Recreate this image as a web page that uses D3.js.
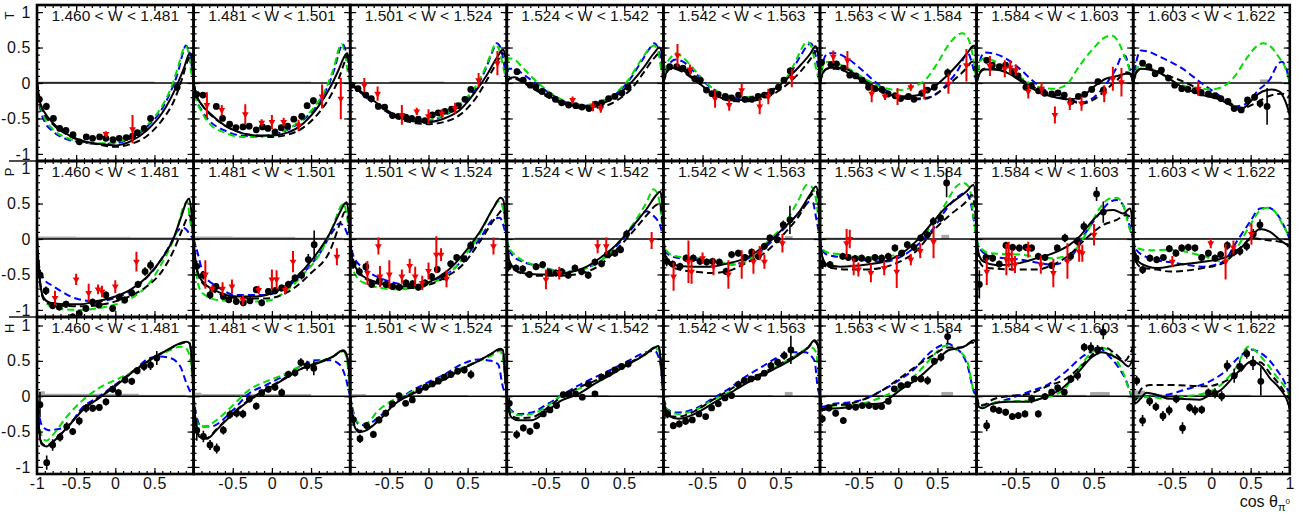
<!DOCTYPE html>
<html>
<head>
<meta charset="utf-8">
<script src="https://cdn.jsdelivr.net/npm/d3@7"></script>
<style>
  html, body { margin: 0; padding: 0; background: #fff; }
  svg { display: block; font-family: "Liberation Sans", Arial, Helvetica, sans-serif; }
</style>
</head>
<body>
<svg id="chart" width="1303" height="515"></svg>
<script>
// ---------------- W bins and axis labels ----------------
const wEdges = [1.460, 1.481, 1.501, 1.524, 1.542, 1.563, 1.584, 1.603, 1.622];
const rowNames = ["T", "P", "H"];
const yTickLabels = [-1, -0.5, 0, 0.5, 1];
const xTickLabelsFirst = [-1, -0.5, 0, 0.5];
const xTickLabelsMid = [-0.5, 0, 0.5];
const xTickLabelsLast = [-0.5, 0, 0.5, 1];

// ---------------- T : measured points [cos, value, error] ----------------
const tPoints = [
  [[-0.97,-0.23,0.05],[-0.88,-0.33,0.05],[-0.79,-0.50,0.03],[-0.71,-0.64,0.03],[-0.63,-0.67,0.03],[-0.54,-0.73,0.03],[-0.46,-0.83,0.03],[-0.37,-0.76,0.03],[-0.29,-0.78,0.03],[-0.20,-0.76,0.03],[-0.12,-0.78,0.03],[-0.03,-0.80,0.03],[0.05,-0.78,0.03],[0.14,-0.77,0.03],[0.22,-0.75,0.03],[0.28,-0.70,0.03],[0.37,-0.64,0.03],[0.45,-0.50,0.04],[0.79,-0.06,0.05]],
  [[-0.96,-0.16,0.04],[-0.88,-0.17,0.04],[-0.71,-0.33,0.04],[-0.63,-0.50,0.03],[-0.54,-0.58,0.03],[-0.46,-0.63,0.03],[-0.37,-0.62,0.03],[-0.29,-0.61,0.03],[-0.20,-0.66,0.03],[-0.12,-0.62,0.03],[-0.05,-0.64,0.03],[0.04,-0.69,0.03],[0.12,-0.63,0.03],[0.20,-0.61,0.03],[0.28,-0.51,0.03],[0.38,-0.47,0.04],[0.45,-0.32,0.04],[0.53,-0.25,0.05]],
  [[-0.98,-0.03,0.04],[-0.90,-0.08,0.03],[-0.80,-0.17,0.03],[-0.73,-0.22,0.03],[-0.64,-0.33,0.03],[-0.56,-0.34,0.03],[-0.46,-0.46,0.03],[-0.385,-0.47,0.03],[-0.29,-0.48,0.03],[-0.215,-0.50,0.03],[-0.13,-0.51,0.03],[-0.045,-0.53,0.03],[0.05,-0.45,0.03],[0.125,-0.42,0.03],[0.21,-0.40,0.03],[0.295,-0.37,0.03],[0.38,-0.32,0.03],[0.465,-0.23,0.03],[0.54,-0.09,0.03]],
  [[-0.87,0.16,0.04],[-0.79,0.04,0.03],[-0.70,-0.03,0.03],[-0.63,-0.06,0.03],[-0.55,-0.12,0.03],[-0.46,-0.17,0.03],[-0.38,-0.23,0.03],[-0.30,-0.28,0.03],[-0.21,-0.31,0.03],[-0.12,-0.32,0.03],[-0.04,-0.34,0.03],[0.05,-0.36,0.03],[0.13,-0.30,0.03],[0.21,-0.28,0.03],[0.30,-0.22,0.03],[0.38,-0.19,0.03],[0.47,-0.14,0.03],[0.55,-0.06,0.04]],
  [[-0.92,0.23,0.04],[-0.83,0.23,0.03],[-0.75,0.21,0.03],[-0.68,0.16,0.03],[-0.60,0.06,0.03],[-0.53,0.04,0.03],[-0.45,-0.10,0.03],[-0.38,-0.15,0.03],[-0.30,-0.16,0.03],[-0.21,-0.19,0.03],[-0.13,-0.21,0.03],[-0.04,-0.17,0.03],[0.04,-0.23,0.03],[0.13,-0.23,0.03],[0.21,-0.19,0.03],[0.29,-0.17,0.03],[0.38,-0.12,0.03],[0.47,-0.06,0.03],[0.54,0.04,0.04],[0.62,0.17,0.05]],
  [[-0.98,0.29,0.04],[-0.86,0.26,0.04],[-0.79,0.27,0.03],[-0.70,0.21,0.03],[-0.62,0.11,0.03],[-0.545,0.10,0.03],[-0.46,0.04,0.03],[-0.38,-0.06,0.03],[-0.30,-0.08,0.03],[-0.21,-0.09,0.03],[-0.13,-0.155,0.03],[-0.04,-0.18,0.03],[0.03,-0.22,0.03],[0.13,-0.19,0.03],[0.20,-0.23,0.03],[0.30,-0.145,0.03],[0.37,-0.10,0.03],[0.46,-0.06,0.03],[0.63,0.145,0.06]],
  [[-0.87,0.32,0.04],[-0.80,0.25,0.03],[-0.71,0.23,0.03],[-0.63,0.25,0.03],[-0.54,0.16,0.03],[-0.47,0.10,0.03],[-0.37,-0.06,0.03],[-0.30,-0.04,0.03],[-0.21,-0.11,0.03],[-0.13,-0.145,0.03],[-0.04,-0.155,0.03],[0.04,-0.14,0.03],[0.12,-0.17,0.03],[0.21,-0.26,0.03],[0.30,-0.19,0.03],[0.38,-0.16,0.03],[0.47,-0.09,0.04],[0.55,0.02,0.04],[0.62,-0.10,0.05]],
  [[-0.88,0.28,0.04],[-0.80,0.23,0.03],[-0.72,0.13,0.03],[-0.64,0.18,0.03],[-0.55,0.07,0.03],[-0.47,-0.03,0.03],[-0.38,-0.08,0.03],[-0.30,-0.09,0.03],[-0.21,-0.11,0.03],[-0.13,-0.14,0.03],[-0.04,-0.155,0.03],[0.045,-0.18,0.03],[0.12,-0.22,0.03],[0.21,-0.26,0.03],[0.29,-0.36,0.03],[0.38,-0.38,0.04],[0.46,-0.24,0.04],[0.55,-0.20,0.05],[0.62,-0.29,0.06],[0.71,-0.33,0.26]]
];
const tRed = [
  [[-0.12,-0.72,0.04],[0.22,-0.65,0.2]],
  [[-0.83,-0.31,0.18],[-0.64,-0.38,0.07],[-0.34,-0.44,0.14],[-0.13,-0.56,0.05],[0.0,-0.55,0.1],[0.15,-0.55,0.06],[0.34,-0.6,0.08],[0.64,-0.19,0.17],[0.88,-0.22,0.29]],
  [[-0.82,-0.03,0.1],[-0.65,-0.15,0.1],[-0.34,-0.45,0.14],[-0.15,-0.4,0.05],[0.0,-0.47,0.1],[0.17,-0.43,0.06],[0.34,-0.36,0.08],[0.64,0.04,0.1],[0.88,0.28,0.17]],
  [[-0.16,-0.24,0.05],[0.1,-0.33,0.07],[0.2,-0.36,0.06]],
  [[-0.82,0.39,0.16],[-0.66,0.19,0.07],[-0.34,-0.22,0.13],[-0.16,-0.31,0.08],[0.0,-0.1,0.09],[0.23,-0.33,0.11],[0.34,-0.19,0.11],[0.64,0.07,0.13]],
  [[-0.83,0.37,0.09],[-0.65,0.32,0.13],[-0.34,-0.15,0.12],[-0.17,-0.19,0.05],[-0.01,-0.19,0.12],[0.16,-0.06,0.05],[0.33,-0.12,0.11],[0.64,-0.01,0.14],[0.87,0.25,0.23]],
  [[-0.83,0.24,0.14],[-0.64,0.2,0.12],[-0.57,0.22,0.1],[-0.5,0.18,0.08],[-0.34,-0.12,0.1],[-0.17,-0.08,0.09],[0.0,-0.45,0.12],[0.19,-0.29,0.09],[0.34,-0.29,0.1],[0.63,-0.15,0.12],[0.74,0.06,0.17],[0.85,0.01,0.2]],
  [[-0.17,-0.08,0.1]]
];
// ---------------- T : model curves [cos, value] ----------------
const tSolid = [
  [[-1,0],[-0.96,-0.28],[-0.9,-0.42],[-0.8,-0.56],[-0.6,-0.73],[-0.4,-0.82],[-0.2,-0.86],[0,-0.88],[0.2,-0.82],[0.4,-0.67],[0.6,-0.42],[0.78,-0.05],[0.88,0.22],[0.95,0.42],[0.975,0.4],[1,0]],
  [[-1,0],[-0.97,-0.15],[-0.9,-0.3],[-0.8,-0.42],[-0.6,-0.6],[-0.4,-0.7],[-0.2,-0.74],[0,-0.74],[0.2,-0.7],[0.4,-0.57],[0.6,-0.32],[0.75,-0.05],[0.85,0.18],[0.93,0.38],[0.96,0.42],[0.98,0.35],[1,0]],
  [[-1,0],[-0.9,-0.1],[-0.8,-0.17],[-0.6,-0.33],[-0.4,-0.47],[-0.2,-0.54],[0,-0.55],[0.2,-0.5],[0.4,-0.38],[0.6,-0.12],[0.75,0.12],[0.88,0.37],[0.95,0.47],[0.98,0.4],[1,0]],
  [[-1,0],[-0.96,0.07],[-0.9,0.08],[-0.8,0.03],[-0.6,-0.1],[-0.4,-0.22],[-0.2,-0.31],[0,-0.34],[0.2,-0.3],[0.4,-0.18],[0.6,0.02],[0.75,0.22],[0.88,0.42],[0.95,0.5],[0.98,0.42],[1,0]],
  [[-1,0],[-0.96,0.15],[-0.9,0.21],[-0.8,0.2],[-0.6,0.05],[-0.4,-0.13],[-0.2,-0.23],[0,-0.24],[0.2,-0.2],[0.4,-0.1],[0.6,0.08],[0.75,0.25],[0.88,0.42],[0.94,0.52],[0.97,0.45],[1,0]],
  [[-1,0],[-0.96,0.15],[-0.9,0.21],[-0.8,0.22],[-0.65,0.19],[-0.5,0.08],[-0.35,-0.02],[-0.2,-0.12],[0,-0.19],[0.2,-0.18],[0.4,-0.1],[0.6,0.08],[0.75,0.25],[0.88,0.42],[0.95,0.52],[0.98,0.53],[1,0]],
  [[-1,0],[-0.96,0.14],[-0.9,0.19],[-0.8,0.19],[-0.6,0.14],[-0.4,0.0],[-0.2,-0.13],[0,-0.2],[0.2,-0.23],[0.35,-0.19],[0.5,-0.05],[0.65,0.06],[0.8,0.1],[0.92,0.13],[0.97,0.12],[1,0]],
  [[-1,0],[-0.96,0.15],[-0.9,0.2],[-0.8,0.19],[-0.64,0.13],[-0.4,-0.04],[-0.15,-0.16],[0.1,-0.23],[0.25,-0.32],[0.35,-0.38],[0.45,-0.32],[0.55,-0.2],[0.65,-0.12],[0.77,-0.09],[0.87,-0.12],[0.94,-0.25],[1,-0.45]]
];
const tDashed = [
  [[-1,0],[-0.95,-0.3],[-0.9,-0.45],[-0.8,-0.58],[-0.6,-0.74],[-0.4,-0.83],[-0.2,-0.87],[0,-0.9],[0.2,-0.86],[0.4,-0.75],[0.6,-0.52],[0.75,-0.25],[0.85,0.05],[0.92,0.3],[0.96,0.38],[0.98,0.3],[1,0]],
  [[-1,0],[-0.97,-0.15],[-0.9,-0.3],[-0.8,-0.43],[-0.6,-0.6],[-0.4,-0.7],[-0.2,-0.74],[0,-0.76],[0.2,-0.73],[0.4,-0.63],[0.6,-0.42],[0.75,-0.18],[0.85,0.05],[0.93,0.3],[0.96,0.38],[0.98,0.3],[1,0]],
  [[-1,0],[-0.9,-0.1],[-0.8,-0.18],[-0.6,-0.35],[-0.4,-0.49],[-0.2,-0.56],[0,-0.58],[0.2,-0.55],[0.4,-0.45],[0.6,-0.22],[0.75,0.05],[0.88,0.3],[0.95,0.42],[0.98,0.38],[1,0]],
  [[-1,0],[-0.96,0.06],[-0.9,0.06],[-0.8,0.01],[-0.6,-0.12],[-0.4,-0.24],[-0.2,-0.32],[0,-0.36],[0.2,-0.34],[0.4,-0.25],[0.6,-0.07],[0.75,0.15],[0.88,0.35],[0.95,0.42],[0.98,0.35],[1,0]],
  [[-1,0],[-0.96,0.15],[-0.9,0.2],[-0.8,0.18],[-0.6,0.04],[-0.4,-0.13],[-0.2,-0.24],[0,-0.26],[0.2,-0.24],[0.4,-0.16],[0.6,0.0],[0.75,0.16],[0.88,0.34],[0.95,0.45],[0.98,0.4],[1,0]],
  [[-1,0],[-0.96,0.15],[-0.9,0.2],[-0.8,0.2],[-0.6,0.12],[-0.4,-0.02],[-0.2,-0.14],[0,-0.2],[0.2,-0.22],[0.4,-0.2],[0.6,-0.06],[0.75,0.08],[0.88,0.22],[0.94,0.3],[0.97,0.28],[1,0]],
  [[-1,0],[-0.96,0.15],[-0.9,0.2],[-0.8,0.2],[-0.6,0.15],[-0.4,0.03],[-0.2,-0.1],[0,-0.18],[0.2,-0.25],[0.35,-0.29],[0.5,-0.23],[0.65,-0.1],[0.8,0.05],[0.92,0.15],[0.97,0.13],[1,0]],
  [[-1,0],[-0.96,0.15],[-0.9,0.2],[-0.8,0.2],[-0.6,0.12],[-0.38,0.03],[-0.13,-0.1],[0.2,-0.26],[0.38,-0.36],[0.55,-0.29],[0.72,-0.19],[0.9,-0.15],[1,-0.2]]
];
const tBlue = [
  [[-1,0],[-0.96,-0.35],[-0.9,-0.55],[-0.8,-0.68],[-0.6,-0.8],[-0.4,-0.84],[-0.2,-0.86],[0,-0.85],[0.2,-0.78],[0.4,-0.62],[0.6,-0.36],[0.7,-0.14],[0.8,0.15],[0.87,0.45],[0.9,0.53],[0.93,0.48],[0.97,0.3],[1,0]],
  [[-1,0],[-0.97,-0.2],[-0.9,-0.38],[-0.8,-0.53],[-0.6,-0.67],[-0.4,-0.74],[-0.2,-0.75],[0,-0.73],[0.2,-0.66],[0.4,-0.52],[0.6,-0.28],[0.7,-0.08],[0.8,0.2],[0.87,0.48],[0.9,0.55],[0.93,0.5],[0.97,0.3],[1,0]],
  [[-1,0],[-0.9,-0.1],[-0.8,-0.2],[-0.6,-0.36],[-0.4,-0.48],[-0.2,-0.54],[0,-0.53],[0.2,-0.46],[0.4,-0.32],[0.6,-0.08],[0.72,0.17],[0.82,0.45],[0.87,0.56],[0.92,0.5],[0.96,0.3],[1,0]],
  [[-1,0],[-0.98,0.2],[-0.9,0.2],[-0.8,0.13],[-0.6,-0.03],[-0.4,-0.18],[-0.2,-0.29],[0,-0.32],[0.2,-0.27],[0.4,-0.15],[0.55,0.02],[0.7,0.27],[0.82,0.48],[0.88,0.56],[0.93,0.5],[0.97,0.3],[1,0]],
  [[-1,0],[-0.96,0.2],[-0.9,0.3],[-0.84,0.33],[-0.75,0.3],[-0.6,0.15],[-0.4,-0.06],[-0.2,-0.18],[0,-0.22],[0.2,-0.2],[0.4,-0.1],[0.6,0.1],[0.75,0.38],[0.84,0.53],[0.88,0.56],[0.93,0.45],[0.97,0.25],[1,0]],
  [[-1,0],[-0.96,0.3],[-0.9,0.42],[-0.8,0.42],[-0.7,0.38],[-0.5,0.22],[-0.3,0.02],[-0.1,-0.14],[0.1,-0.22],[0.3,-0.23],[0.5,-0.14],[0.65,0.02],[0.78,0.22],[0.85,0.38],[0.89,0.42],[0.93,0.32],[0.97,0.15],[1,0]],
  [[-1,0],[-0.96,0.3],[-0.9,0.43],[-0.8,0.42],[-0.65,0.36],[-0.45,0.2],[-0.25,0.0],[-0.05,-0.15],[0.15,-0.23],[0.35,-0.27],[0.5,-0.2],[0.65,-0.02],[0.78,0.2],[0.86,0.38],[0.9,0.38],[0.94,0.25],[1,0]],
  [[-1,0],[-0.96,0.3],[-0.9,0.46],[-0.8,0.44],[-0.64,0.36],[-0.38,0.21],[-0.13,0.0],[0.13,-0.2],[0.3,-0.33],[0.43,-0.3],[0.6,-0.1],[0.75,0.06],[0.85,0.27],[0.9,0.3],[0.95,0.22],[1,0]]
];
const tGreen = [
  [[-1,0],[-0.96,-0.3],[-0.9,-0.5],[-0.8,-0.65],[-0.6,-0.78],[-0.4,-0.84],[-0.2,-0.85],[0,-0.84],[0.2,-0.76],[0.4,-0.6],[0.6,-0.32],[0.7,-0.1],[0.8,0.22],[0.86,0.45],[0.9,0.52],[0.94,0.4],[0.97,0.15],[1,0]],
  [[-1,0],[-0.97,-0.2],[-0.9,-0.4],[-0.8,-0.57],[-0.6,-0.7],[-0.4,-0.76],[-0.2,-0.76],[0,-0.73],[0.2,-0.65],[0.4,-0.5],[0.6,-0.25],[0.7,-0.05],[0.8,0.25],[0.86,0.5],[0.89,0.55],[0.93,0.42],[0.97,0.15],[1,0]],
  [[-1,0],[-0.9,-0.08],[-0.8,-0.18],[-0.6,-0.35],[-0.4,-0.47],[-0.2,-0.53],[0,-0.52],[0.2,-0.45],[0.4,-0.3],[0.6,-0.05],[0.72,0.2],[0.8,0.42],[0.85,0.54],[0.9,0.48],[0.95,0.25],[1,0]],
  [[-1,0],[-0.98,0.35],[-0.9,0.33],[-0.8,0.22],[-0.6,0.0],[-0.4,-0.17],[-0.2,-0.28],[0,-0.31],[0.2,-0.26],[0.4,-0.13],[0.55,0.04],[0.7,0.3],[0.82,0.48],[0.88,0.53],[0.93,0.45],[0.97,0.2],[1,0]],
  [[-1,0],[-0.96,0.25],[-0.9,0.37],[-0.84,0.42],[-0.75,0.36],[-0.6,0.18],[-0.4,-0.05],[-0.2,-0.17],[0,-0.2],[0.2,-0.18],[0.4,-0.08],[0.6,0.12],[0.72,0.38],[0.8,0.55],[0.84,0.58],[0.9,0.48],[0.95,0.2],[1,0]],
  [[-1,0],[-0.96,0.25],[-0.9,0.3],[-0.8,0.28],[-0.6,0.18],[-0.4,0.04],[-0.2,-0.06],[0,-0.1],[0.2,-0.05],[0.35,0.05],[0.5,0.28],[0.65,0.55],[0.75,0.67],[0.82,0.7],[0.88,0.65],[0.93,0.5],[0.97,0.25],[1,0]],
  [[-1,0],[-0.96,0.3],[-0.9,0.35],[-0.8,0.32],[-0.6,0.2],[-0.4,0.05],[-0.2,-0.06],[0,-0.08],[0.15,-0.02],[0.3,0.22],[0.5,0.5],[0.65,0.65],[0.72,0.67],[0.8,0.6],[0.88,0.4],[0.95,0.2],[1,0]],
  [[-1,0],[-0.96,0.2],[-0.9,0.25],[-0.8,0.22],[-0.6,0.1],[-0.45,0.0],[-0.2,-0.07],[0,-0.09],[0.15,-0.05],[0.3,0.1],[0.45,0.35],[0.58,0.52],[0.66,0.56],[0.75,0.52],[0.85,0.38],[0.94,0.22],[1,0]]
];
// systematic uncertainty bands [from, to, height]
const tSys = [
  [[-1,0.5,0.02]], [[-1,0.5,0.02]], [[-0.5,0.2,0.02]], [], [], [], [[0.4,0.6,0.02]], [[0.62,0.72,0.05],[0.72,0.9,0.02]]
];

// ---------------- P ----------------
const pPoints = [
  [[-0.96,-0.51,0.08],[-0.885,-0.73,0.06],[-0.80,-0.94,0.05],[-0.715,-0.96,0.05],[-0.63,-0.92,0.05],[-0.545,-1.10,0.05],[-0.46,-1.05,0.05],[-0.375,-0.98,0.05],[-0.29,-0.89,0.05],[-0.21,-0.93,0.05],[-0.12,-0.79,0.05],[-0.034,-0.98,0.05],[0.05,-0.82,0.05],[0.12,-0.86,0.05],[0.21,-0.76,0.05],[0.29,-0.64,0.05],[0.38,-0.46,0.06],[0.45,-0.37,0.07]],
  [[-0.96,-0.385,0.08],[-0.876,-0.51,0.06],[-0.79,-0.79,0.06],[-0.714,-0.67,0.05],[-0.62,-0.81,0.05],[-0.55,-0.856,0.05],[-0.455,-0.88,0.05],[-0.365,-0.9,0.05],[-0.28,-0.87,0.05],[-0.2,-0.715,0.05],[-0.13,-0.9,0.05],[-0.045,-0.74,0.05],[0.04,-0.73,0.05],[0.125,-0.69,0.05],[0.21,-0.64,0.05],[0.295,-0.55,0.05],[0.38,-0.51,0.06],[0.465,-0.29,0.08],[0.54,-0.08,0.2]],
  [[-0.96,-0.35,0.07],[-0.883,-0.46,0.06],[-0.8,-0.39,0.06],[-0.726,-0.64,0.05],[-0.628,-0.59,0.05],[-0.543,-0.64,0.05],[-0.458,-0.67,0.05],[-0.373,-0.68,0.05],[-0.288,-0.62,0.05],[-0.203,-0.63,0.05],[-0.13,-0.68,0.05],[-0.045,-0.62,0.05],[0.04,-0.53,0.05],[0.112,-0.43,0.05],[0.197,-0.53,0.05],[0.283,-0.35,0.05],[0.36,-0.26,0.05],[0.453,-0.28,0.05],[0.538,-0.09,0.06]],
  [[-0.98,-0.39,0.07],[-0.883,-0.41,0.05],[-0.797,-0.42,0.05],[-0.712,-0.5,0.05],[-0.627,-0.39,0.05],[-0.542,-0.36,0.05],[-0.457,-0.47,0.05],[-0.372,-0.48,0.05],[-0.3,-0.46,0.05],[-0.215,-0.51,0.05],[-0.13,-0.41,0.05],[-0.045,-0.46,0.05],[0.04,-0.51,0.05],[0.126,-0.325,0.05],[0.21,-0.35,0.05],[0.283,-0.22,0.05],[0.38,-0.2,0.05],[0.453,-0.15,0.05],[0.53,0.07,0.06]],
  [[-0.958,-0.315,0.07],[-0.882,-0.353,0.05],[-0.788,-0.386,0.05],[-0.711,-0.27,0.05],[-0.618,-0.27,0.05],[-0.533,-0.315,0.05],[-0.448,-0.325,0.05],[-0.371,-0.315,0.05],[-0.286,-0.325,0.05],[-0.2,-0.457,0.05],[-0.129,-0.22,0.05],[-0.043,-0.2,0.05],[0.042,-0.26,0.05],[0.127,-0.185,0.05],[0.212,-0.245,0.05],[0.289,-0.104,0.05],[0.36,0.014,0.05],[0.454,-0.01,0.05],[0.531,0.2,0.06],[0.616,0.27,0.2]],
  [[-0.966,-0.353,0.07],[-0.872,-0.36,0.05],[-0.71,-0.245,0.05],[-0.638,-0.26,0.05],[-0.553,-0.277,0.05],[-0.468,-0.27,0.05],[-0.383,-0.29,0.05],[-0.298,-0.26,0.05],[-0.213,-0.27,0.05],[-0.128,-0.245,0.05],[-0.043,-0.127,0.05],[0.043,-0.2,0.05],[0.115,-0.08,0.05],[0.2,-0.118,0.05],[0.285,0.014,0.05],[0.37,0.06,0.05],[0.447,0.249,0.06],[0.54,0.296,0.06],[0.617,0.79,0.2]],
  [[-0.965,-0.64,0.2],[-0.88,-0.26,0.06],[-0.795,-0.27,0.05],[-0.71,-0.353,0.05],[-0.625,-0.09,0.05],[-0.54,-0.118,0.05],[-0.455,-0.127,0.05],[-0.37,-0.118,0.05],[-0.297,-0.127,0.05],[-0.212,-0.245,0.05],[-0.127,-0.26,0.05],[-0.042,-0.372,0.05],[0.03,-0.127,0.05],[0.128,0.014,0.06],[0.2,-0.245,0.06],[0.285,-0.033,0.06],[0.37,0.178,0.07],[0.532,0.635,0.1],[0.618,0.38,0.15]],
  [[-0.964,-0.27,0.07],[-0.879,-0.433,0.06],[-0.786,-0.27,0.05],[-0.7,-0.292,0.05],[-0.615,-0.26,0.05],[-0.539,-0.136,0.05],[-0.454,-0.2,0.05],[-0.381,-0.127,0.05],[-0.296,-0.118,0.05],[-0.211,-0.127,0.05],[-0.126,-0.26,0.05],[-0.04,-0.2,0.05],[0.045,-0.27,0.05],[0.117,-0.22,0.05],[0.202,-0.09,0.06],[0.287,-0.183,0.06],[0.363,-0.174,0.06],[0.449,-0.104,0.06],[0.534,0.07,0.07],[0.619,0.2,0.08]]
];
const pRed = [
  [[-0.77,-0.83,0.1],[-0.5,-0.57,0.08],[-0.34,-0.76,0.13],[-0.22,-0.71,0.07],[-0.17,-0.74,0.08],[0.0,-0.67,0.09],[0.27,-0.32,0.14]],
  [[-0.85,-0.5,0.2],[-0.76,-0.7,0.05],[-0.63,-0.7,0.09],[-0.51,-0.67,0.1],[-0.37,-0.86,0.07],[-0.17,-0.72,0.06],[0.0,-0.57,0.14],[0.06,-0.57,0.13],[0.17,-0.72,0.06],[0.27,-0.32,0.15],[0.83,-0.25,0.12]],
  [[-0.78,-0.48,0.17],[-0.64,-0.1,0.12],[-0.62,-0.53,0.15],[-0.5,-0.5,0.2],[-0.34,-0.53,0.1],[-0.24,-0.38,0.1],[-0.17,-0.53,0.14],[-0.08,-0.62,0.1],[0.0,-0.45,0.12],[0.1,-0.22,0.26],[0.16,-0.22,0.09],[0.23,-0.56,0.12],[0.83,-0.1,0.12]],
  [[-0.5,-0.57,0.14],[-0.33,-0.48,0.09],[0.16,-0.1,0.1],[0.27,-0.1,0.12],[0.85,-0.02,0.12]],
  [[-0.87,-0.53,0.2],[-0.68,-0.32,0.3],[-0.64,-0.46,0.17],[-0.5,-0.27,0.08],[-0.36,-0.39,0.12],[-0.17,-0.5,0.2],[0.0,-0.36,0.2],[0.15,-0.32,0.17],[0.23,-0.2,0.1],[0.29,-0.32,0.1],[0.52,-0.06,0.13]],
  [[-0.66,-0.06,0.2],[-0.62,0.0,0.13],[-0.57,-0.39,0.12],[-0.51,-0.43,0.1],[-0.35,-0.48,0.13],[-0.18,-0.41,0.1],[-0.02,-0.46,0.23],[0.16,-0.29,0.08],[0.28,-0.17,0.1],[0.45,-0.04,0.23]],
  [[-0.87,-0.46,0.19],[-0.62,-0.29,0.22],[-0.59,-0.22,0.18],[-0.55,-0.3,0.15],[-0.51,-0.36,0.12],[-0.34,-0.15,0.11],[-0.18,-0.36,0.13],[-0.02,-0.48,0.2],[0.16,-0.31,0.25],[0.31,-0.18,0.14],[0.35,-0.2,0.12],[0.5,0.06,0.15]],
  [[-0.5,-0.32,0.08],[-0.01,-0.06,0.07],[0.18,-0.32,0.25],[0.28,-0.12,0.1],[0.51,0.07,0.15]]
];
const pSolid = [
  [[-1,0],[-0.97,-0.5],[-0.92,-0.82],[-0.83,-0.9],[-0.65,-0.92],[-0.45,-0.92],[-0.25,-0.88],[0,-0.81],[0.2,-0.71],[0.4,-0.54],[0.6,-0.27],[0.74,0.0],[0.85,0.34],[0.91,0.53],[0.945,0.57],[0.97,0.4],[1,0]],
  [[-1,0],[-0.97,-0.35],[-0.9,-0.58],[-0.7,-0.74],[-0.45,-0.81],[-0.2,-0.81],[0.06,-0.74],[0.3,-0.55],[0.53,-0.27],[0.74,0.08],[0.87,0.38],[0.93,0.5],[0.955,0.52],[0.98,0.35],[1,0]],
  [[-1,0],[-0.97,-0.3],[-0.92,-0.42],[-0.83,-0.53],[-0.62,-0.62],[-0.4,-0.67],[-0.2,-0.67],[0.02,-0.6],[0.23,-0.46],[0.44,-0.22],[0.66,0.11],[0.83,0.44],[0.92,0.58],[0.95,0.56],[0.98,0.35],[1,0]],
  [[-1,0],[-0.97,-0.3],[-0.9,-0.42],[-0.8,-0.48],[-0.6,-0.5],[-0.4,-0.5],[-0.2,-0.47],[0.0,-0.4],[0.2,-0.26],[0.4,-0.08],[0.6,0.17],[0.79,0.43],[0.91,0.62],[0.96,0.67],[0.985,0.5],[1,0]],
  [[-1,0],[-0.97,-0.25],[-0.9,-0.34],[-0.8,-0.38],[-0.6,-0.39],[-0.4,-0.39],[-0.2,-0.35],[0.05,-0.27],[0.3,-0.09],[0.53,0.15],[0.74,0.39],[0.87,0.62],[0.95,0.74],[0.98,0.6],[1,0]],
  [[-1,0],[-0.97,-0.25],[-0.91,-0.36],[-0.74,-0.39],[-0.4,-0.36],[-0.19,-0.32],[0.02,-0.22],[0.23,-0.03],[0.45,0.25],[0.62,0.46],[0.79,0.6],[0.87,0.67],[0.96,0.76],[0.99,0.5],[1,0]],
  [[-1,0],[-0.97,-0.22],[-0.91,-0.32],[-0.74,-0.37],[-0.45,-0.34],[-0.23,-0.27],[-0.02,-0.2],[0.19,-0.08],[0.32,0.04],[0.45,0.22],[0.62,0.39],[0.75,0.41],[0.87,0.36],[0.96,0.43],[1,0.1]],
  [[-1,0],[-0.97,-0.25],[-0.91,-0.34],[-0.7,-0.41],[-0.45,-0.37],[-0.11,-0.32],[0.15,-0.27],[0.32,-0.18],[0.49,0.01],[0.62,0.14],[0.75,0.1],[0.87,-0.01],[0.98,-0.09],[1,-0.1]]
];
const pDashed = [
  [[-1,0],[-0.97,-0.5],[-0.92,-0.84],[-0.83,-0.92],[-0.65,-0.94],[-0.4,-0.95],[-0.2,-0.93],[0,-0.88],[0.2,-0.8],[0.4,-0.67],[0.6,-0.45],[0.75,-0.15],[0.85,0.12],[0.92,0.3],[0.95,0.33],[0.98,0.2],[1,0]],
  [[-1,0],[-0.97,-0.35],[-0.9,-0.6],[-0.7,-0.76],[-0.45,-0.83],[-0.1,-0.84],[0.2,-0.75],[0.5,-0.48],[0.74,-0.17],[0.88,0.25],[0.93,0.38],[0.96,0.36],[1,0]],
  [[-1,0],[-0.97,-0.3],[-0.92,-0.43],[-0.83,-0.54],[-0.62,-0.64],[-0.4,-0.69],[-0.2,-0.69],[0.02,-0.64],[0.23,-0.53],[0.44,-0.36],[0.66,-0.03],[0.87,0.32],[0.95,0.41],[0.98,0.3],[1,0]],
  [[-1,0],[-0.97,-0.3],[-0.9,-0.43],[-0.8,-0.49],[-0.6,-0.52],[-0.4,-0.52],[-0.2,-0.51],[0.0,-0.47],[0.2,-0.36],[0.4,-0.15],[0.6,0.09],[0.79,0.34],[0.91,0.48],[0.95,0.5],[0.98,0.35],[1,0]],
  [[-1,0],[-0.97,-0.28],[-0.9,-0.38],[-0.8,-0.43],[-0.6,-0.46],[-0.4,-0.48],[-0.2,-0.46],[0.05,-0.34],[0.3,-0.19],[0.53,0.06],[0.74,0.34],[0.89,0.62],[0.95,0.67],[0.98,0.5],[1,0]],
  [[-1,0],[-0.97,-0.3],[-0.9,-0.4],[-0.62,-0.43],[-0.4,-0.43],[-0.15,-0.39],[0.02,-0.32],[0.23,-0.17],[0.45,0.12],[0.66,0.34],[0.87,0.53],[0.94,0.62],[0.98,0.4],[1,0]],
  [[-1,0],[-0.97,-0.3],[-0.9,-0.4],[-0.74,-0.42],[-0.45,-0.43],[-0.23,-0.43],[-0.02,-0.36],[0.19,-0.22],[0.4,0.01],[0.62,0.2],[0.79,0.27],[0.91,0.34],[0.97,0.3],[1,0]],
  [[-1,0],[-0.97,-0.3],[-0.9,-0.4],[-0.7,-0.43],[-0.53,-0.46],[-0.11,-0.41],[0.15,-0.34],[0.36,-0.13],[0.53,0.01],[0.66,-0.01],[0.83,-0.03],[0.98,-0.08],[1,-0.1]]
];
const pBlue = [
  [[-1,0],[-0.97,-0.4],[-0.9,-0.58],[-0.8,-0.66],[-0.7,-0.73],[-0.5,-0.84],[-0.25,-0.88],[0.05,-0.81],[0.3,-0.65],[0.5,-0.42],[0.7,-0.08],[0.8,0.12],[0.87,0.16],[0.91,0.13],[0.96,0.05],[1,0]],
  [[-1,0],[-0.96,-0.15],[-0.87,-0.5],[-0.7,-0.67],[-0.45,-0.79],[-0.1,-0.79],[0.2,-0.67],[0.4,-0.48],[0.6,-0.22],[0.78,0.11],[0.86,0.22],[0.92,0.18],[0.96,0.08],[1,0]],
  [[-1,0],[-0.97,-0.2],[-0.94,-0.28],[-0.83,-0.41],[-0.62,-0.55],[-0.2,-0.65],[0.23,-0.5],[0.44,-0.29],[0.66,0.01],[0.83,0.28],[0.91,0.3],[0.96,0.18],[1,0]],
  [[-1,0],[-0.97,-0.15],[-0.9,-0.26],[-0.8,-0.32],[-0.6,-0.38],[-0.4,-0.44],[-0.2,-0.46],[0.0,-0.41],[0.2,-0.31],[0.4,-0.1],[0.6,0.15],[0.79,0.39],[0.86,0.34],[0.92,0.27],[0.97,0.15],[1,0]],
  [[-1,0],[-0.97,-0.18],[-0.9,-0.24],[-0.8,-0.27],[-0.55,-0.3],[-0.3,-0.34],[-0.1,-0.36],[0.1,-0.27],[0.32,-0.1],[0.57,0.18],[0.79,0.44],[0.87,0.53],[0.91,0.51],[0.95,0.3],[1,0]],
  [[-1,0],[-0.97,-0.15],[-0.91,-0.22],[-0.62,-0.27],[-0.19,-0.32],[0.05,-0.24],[0.23,-0.1],[0.45,0.15],[0.62,0.43],[0.79,0.62],[0.86,0.65],[0.91,0.57],[0.96,0.3],[1,0]],
  [[-1,0],[-0.97,-0.12],[-0.83,-0.24],[-0.45,-0.29],[-0.02,-0.36],[0.19,-0.27],[0.4,0.1],[0.57,0.36],[0.7,0.52],[0.79,0.55],[0.87,0.48],[0.95,0.2],[1,0]],
  [[-1,0],[-0.97,-0.14],[-0.79,-0.27],[-0.45,-0.34],[-0.11,-0.39],[0.15,-0.32],[0.32,-0.04],[0.49,0.24],[0.62,0.43],[0.72,0.44],[0.8,0.4],[0.87,0.3],[0.96,0.1],[1,0]]
];
const pGreen = [
  [[-1,0],[-0.97,-0.55],[-0.9,-0.88],[-0.75,-0.98],[-0.45,-1.0],[-0.1,-0.95],[0.2,-0.84],[0.45,-0.6],[0.6,-0.33],[0.78,0.1],[0.88,0.48],[0.92,0.53],[0.95,0.3],[1,0]],
  [[-1,0],[-0.97,-0.45],[-0.9,-0.75],[-0.7,-0.86],[-0.45,-0.88],[-0.1,-0.88],[0.15,-0.76],[0.4,-0.5],[0.6,-0.23],[0.78,0.18],[0.88,0.46],[0.92,0.5],[0.96,0.3],[1,0]],
  [[-1,0],[-0.97,-0.4],[-0.9,-0.56],[-0.8,-0.63],[-0.62,-0.69],[-0.4,-0.71],[-0.2,-0.69],[0.02,-0.62],[0.23,-0.52],[0.44,-0.27],[0.66,0.08],[0.83,0.44],[0.89,0.53],[0.95,0.44],[1,0]],
  [[-1,0],[-0.97,-0.12],[-0.9,-0.22],[-0.8,-0.3],[-0.6,-0.38],[-0.4,-0.44],[-0.2,-0.46],[0.0,-0.42],[0.2,-0.31],[0.4,-0.08],[0.6,0.19],[0.79,0.53],[0.87,0.7],[0.91,0.67],[0.96,0.45],[1,0]],
  [[-1,0],[-0.97,-0.15],[-0.9,-0.22],[-0.8,-0.25],[-0.55,-0.27],[-0.3,-0.32],[-0.1,-0.36],[0.1,-0.29],[0.32,-0.05],[0.57,0.25],[0.74,0.58],[0.83,0.76],[0.89,0.74],[0.95,0.55],[1,0]],
  [[-1,0],[-0.97,-0.14],[-0.9,-0.19],[-0.7,-0.22],[-0.4,-0.26],[-0.1,-0.24],[0.1,-0.14],[0.23,-0.03],[0.45,0.22],[0.62,0.53],[0.74,0.74],[0.83,0.79],[0.91,0.72],[0.96,0.3],[1,0]],
  [[-1,0],[-0.97,-0.1],[-0.83,-0.2],[-0.45,-0.22],[-0.02,-0.27],[0.19,-0.22],[0.4,0.08],[0.57,0.43],[0.7,0.57],[0.79,0.58],[0.87,0.48],[0.96,0.12],[1,0]],
  [[-1,0],[-0.97,-0.12],[-0.79,-0.16],[-0.53,-0.15],[-0.11,-0.24],[0.15,-0.32],[0.32,-0.13],[0.49,0.19],[0.62,0.4],[0.72,0.44],[0.8,0.4],[0.87,0.28],[0.96,0.1],[1,0]]
];
const pSys = [
  [[-1,-0.5,0.035],[-0.5,0.2,0.03],[0.2,0.8,0.025]],
  [[-1,-0.5,0.035],[-0.5,0.3,0.03],[0.3,0.9,0.02]],
  [[-1,0.9,0.02]],
  [[-0.9,0.3,0.02]],
  [[-1,0.5,0.015],[0.55,0.65,0.04]],
  [[-1,0.4,0.02],[0.55,0.65,0.06]],
  [[-1,0.5,0.025]],
  [[-1,0.6,0.015]]
];

// ---------------- H ----------------
const hPoints = [
  [[-0.962,-0.12,0.18],[-0.876,-0.94,0.1],[-0.8,-0.69,0.08],[-0.706,-0.58,0.06],[-0.62,-0.43,0.06],[-0.544,-0.5,0.05],[-0.46,-0.35,0.06],[-0.374,-0.17,0.06],[-0.289,-0.17,0.05],[-0.204,-0.16,0.05],[-0.119,-0.08,0.05],[-0.033,0.1,0.05],[0.04,0.05,0.05],[0.124,0.23,0.05],[0.21,0.21,0.05],[0.28,0.36,0.05],[0.367,0.42,0.06],[0.45,0.44,0.07],[0.53,0.54,0.1]],
  [[-0.96,-0.48,0.15],[-0.875,-0.57,0.08],[-0.79,-0.69,0.07],[-0.705,-0.74,0.07],[-0.62,-0.48,0.06],[-0.535,-0.26,0.06],[-0.45,-0.24,0.06],[-0.37,-0.25,0.06],[-0.288,-0.04,0.05],[-0.2,-0.14,0.05],[-0.13,0.05,0.05],[-0.046,0.1,0.05],[0.04,0.126,0.05],[0.125,0.05,0.06],[0.21,0.31,0.05],[0.295,0.33,0.05],[0.37,0.476,0.06],[0.45,0.43,0.07],[0.535,0.396,0.1]],
  [[-0.96,-0.33,0.07],[-0.875,-0.6,0.06],[-0.79,-0.415,0.05],[-0.704,-0.54,0.05],[-0.632,-0.335,0.05],[-0.547,-0.24,0.05],[-0.462,-0.11,0.04],[-0.377,0.009,0.04],[-0.292,-0.1,0.04],[-0.207,-0.052,0.04],[-0.122,0.08,0.04],[-0.037,0.127,0.04],[0.048,0.174,0.04],[0.125,0.212,0.04],[0.202,0.269,0.04],[0.287,0.306,0.04],[0.372,0.353,0.04],[0.457,0.372,0.05],[0.542,0.306,0.06]],
  [[-0.968,-0.1,0.08],[-0.874,-0.543,0.06],[-0.789,-0.449,0.05],[-0.704,-0.496,0.05],[-0.619,-0.416,0.05],[-0.534,-0.25,0.04],[-0.449,-0.194,0.04],[-0.364,-0.133,0.04],[-0.279,0.023,0.04],[-0.206,0.033,0.04],[-0.121,0.033,0.04],[-0.036,-0.014,0.04],[0.041,0.174,0.04],[0.126,0.033,0.04],[0.211,0.27,0.04],[0.296,0.316,0.04],[0.381,0.373,0.04],[0.466,0.42,0.05],[0.551,0.457,0.05]],
  [[-0.946,-0.25,0.06],[-0.874,-0.416,0.05],[-0.797,-0.392,0.05],[-0.716,-0.354,0.05],[-0.631,-0.335,0.04],[-0.546,-0.25,0.04],[-0.46,-0.288,0.04],[-0.384,-0.165,0.04],[-0.299,-0.108,0.04],[-0.214,-0.024,0.04],[-0.129,0.009,0.04],[-0.043,0.165,0.04],[0.033,0.221,0.04],[0.118,0.245,0.04],[0.203,0.269,0.04],[0.288,0.325,0.04],[0.373,0.433,0.05],[0.458,0.48,0.05],[0.543,0.575,0.06],[0.628,0.655,0.2]],
  [[-0.97,-0.32,0.06],[-0.885,-0.165,0.05],[-0.8,-0.24,0.05],[-0.702,-0.344,0.05],[-0.63,-0.146,0.04],[-0.545,-0.156,0.04],[-0.46,-0.132,0.04],[-0.374,-0.132,0.04],[-0.289,-0.146,0.04],[-0.213,-0.146,0.04],[-0.128,-0.071,0.04],[-0.051,0.104,0.04],[0.034,0.151,0.04],[0.119,0.165,0.04],[0.204,0.245,0.04],[0.289,0.245,0.05],[0.374,0.221,0.06],[0.46,0.495,0.05],[0.545,0.552,0.06],[0.63,0.843,0.1]],
  [[-0.871,-0.416,0.08],[-0.786,-0.18,0.05],[-0.714,-0.203,0.05],[-0.629,-0.227,0.05],[-0.544,-0.288,0.05],[-0.467,-0.274,0.05],[-0.382,-0.25,0.05],[-0.297,-0.038,0.06],[-0.212,-0.25,0.05],[-0.127,-0.005,0.05],[-0.042,0.057,0.05],[0.035,0.118,0.05],[0.12,0.057,0.05],[0.205,0.245,0.06],[0.29,0.292,0.07],[0.375,0.693,0.06],[0.46,0.684,0.08],[0.545,0.655,0.07],[0.618,0.905,0.1]],
  [[-0.955,0.22,0.07],[-0.88,-0.345,0.08],[-0.79,-0.07,0.07],[-0.71,-0.15,0.06],[-0.62,-0.28,0.07],[-0.54,-0.2,0.07],[-0.45,-0.04,0.06],[-0.37,-0.45,0.08],[-0.28,-0.16,0.06],[-0.21,-0.2,0.07],[-0.125,-0.19,0.06],[-0.04,0.05,0.06],[0.045,0.04,0.07],[0.13,0.0,0.07],[0.2,0.43,0.08],[0.29,0.29,0.1],[0.36,0.42,0.08],[0.45,0.6,0.07],[0.53,0.47,0.1],[0.63,0.21,0.2]]
];
const hSolid = [
  [[-1,0],[-0.97,-0.5],[-0.94,-0.68],[-0.88,-0.71],[-0.79,-0.64],[-0.62,-0.45],[-0.41,-0.19],[-0.2,-0.02],[0.02,0.16],[0.23,0.35],[0.44,0.51],[0.66,0.65],[0.83,0.75],[0.91,0.77],[0.95,0.75],[0.98,0.45],[1,0]],
  [[-1,0],[-0.97,-0.4],[-0.93,-0.57],[-0.83,-0.6],[-0.71,-0.48],[-0.5,-0.25],[-0.29,-0.06],[-0.07,0.09],[0.14,0.23],[0.36,0.38],[0.57,0.46],[0.78,0.56],[0.91,0.65],[0.95,0.6],[0.99,0.28],[1,0]],
  [[-1,0],[-0.97,-0.3],[-0.94,-0.44],[-0.88,-0.51],[-0.81,-0.49],[-0.64,-0.35],[-0.43,-0.11],[-0.21,0.03],[0.0,0.13],[0.21,0.24],[0.42,0.38],[0.64,0.5],[0.8,0.6],[0.92,0.67],[0.95,0.65],[0.98,0.25],[1,0]],
  [[-1,0],[-0.97,-0.22],[-0.94,-0.3],[-0.85,-0.34],[-0.68,-0.34],[-0.51,-0.23],[-0.3,-0.06],[-0.09,0.03],[0.13,0.18],[0.34,0.31],[0.55,0.45],[0.77,0.59],[0.89,0.69],[0.94,0.71],[0.97,0.45],[1,0]],
  [[-1,0],[-0.97,-0.2],[-0.94,-0.27],[-0.81,-0.32],[-0.6,-0.25],[-0.38,-0.11],[-0.17,0.03],[0.04,0.17],[0.25,0.29],[0.46,0.41],[0.68,0.55],[0.85,0.69],[0.93,0.79],[0.97,0.74],[0.99,0.5],[1,0]],
  [[-1,0],[-0.97,-0.2],[-0.89,-0.18],[-0.64,-0.16],[-0.43,-0.12],[-0.21,-0.1],[-0.09,-0.01],[0.04,0.1],[0.21,0.22],[0.43,0.43],[0.55,0.57],[0.64,0.65],[0.77,0.68],[0.87,0.72],[0.96,0.79],[1,0.75]],
  [[-1,0],[-0.97,-0.15],[-0.92,-0.17],[-0.81,-0.11],[-0.59,-0.08],[-0.34,-0.08],[-0.13,-0.01],[0.09,0.11],[0.3,0.34],[0.47,0.55],[0.6,0.62],[0.72,0.58],[0.85,0.5],[0.94,0.42],[1,0.55]],
  [[-1,0],[-0.97,-0.1],[-0.91,-0.04],[-0.83,0.05],[-0.7,0.02],[-0.57,-0.03],[-0.35,-0.04],[-0.15,-0.05],[-0.02,0.02],[0.11,0.08],[0.28,0.27],[0.41,0.42],[0.51,0.49],[0.62,0.44],[0.75,0.25],[0.87,0.11],[0.98,-0.1],[1,-0.19]]
];
const hDashed = [
  [[-1,0],[-0.97,-0.48],[-0.94,-0.66],[-0.88,-0.7],[-0.79,-0.63],[-0.62,-0.44],[-0.41,-0.18],[-0.2,-0.01],[0.02,0.17],[0.23,0.36],[0.44,0.52],[0.66,0.65],[0.83,0.74],[0.91,0.76],[0.95,0.74],[0.98,0.44],[1,0]],
  [[-1,0],[-0.97,-0.38],[-0.93,-0.55],[-0.83,-0.59],[-0.71,-0.47],[-0.5,-0.24],[-0.29,-0.05],[-0.07,0.1],[0.14,0.24],[0.36,0.38],[0.57,0.47],[0.78,0.56],[0.91,0.64],[0.95,0.6],[0.99,0.28],[1,0]],
  [[-1,0],[-0.97,-0.28],[-0.94,-0.42],[-0.88,-0.49],[-0.81,-0.48],[-0.64,-0.34],[-0.43,-0.1],[-0.21,0.04],[0.0,0.14],[0.21,0.25],[0.42,0.38],[0.64,0.5],[0.8,0.6],[0.92,0.66],[0.95,0.64],[0.98,0.25],[1,0]],
  [[-1,0],[-0.97,-0.2],[-0.94,-0.28],[-0.85,-0.31],[-0.68,-0.3],[-0.51,-0.19],[-0.3,-0.01],[-0.09,0.12],[0.13,0.22],[0.34,0.33],[0.55,0.46],[0.77,0.6],[0.89,0.69],[0.94,0.7],[0.97,0.45],[1,0]],
  [[-1,0],[-0.97,-0.22],[-0.94,-0.28],[-0.81,-0.29],[-0.6,-0.21],[-0.38,-0.06],[-0.17,0.08],[0.04,0.22],[0.25,0.32],[0.46,0.44],[0.68,0.57],[0.85,0.69],[0.93,0.77],[0.97,0.72],[0.99,0.5],[1,0]],
  [[-1,0],[-0.98,-0.18],[-0.85,-0.13],[-0.64,-0.11],[-0.43,-0.04],[-0.21,0.08],[0.0,0.24],[0.21,0.41],[0.43,0.57],[0.64,0.69],[0.81,0.69],[0.94,0.76],[1,0.72]],
  [[-1,0],[-0.97,-0.12],[-0.92,-0.13],[-0.8,-0.05],[-0.6,0.0],[-0.34,0.03],[-0.08,0.15],[0.13,0.24],[0.34,0.43],[0.55,0.65],[0.64,0.69],[0.77,0.6],[0.89,0.5],[0.96,0.6],[1,0.7]],
  [[-1,0],[-0.97,-0.05],[-0.9,0.1],[-0.78,0.16],[-0.57,0.16],[-0.32,0.15],[-0.06,0.14],[0.15,0.2],[0.36,0.34],[0.49,0.48],[0.62,0.48],[0.75,0.32],[0.87,0.16],[0.98,-0.02],[1,-0.05]]
];
const hBlue = [
  [[-1,0],[-0.98,-0.2],[-0.93,-0.43],[-0.85,-0.48],[-0.62,-0.43],[-0.41,-0.15],[-0.2,0.0],[0.02,0.18],[0.23,0.35],[0.44,0.54],[0.57,0.56],[0.7,0.54],[0.83,0.42],[0.91,0.18],[0.97,0.04],[1,0]],
  [[-1,0],[-0.97,-0.25],[-0.9,-0.43],[-0.79,-0.43],[-0.5,-0.2],[-0.29,0.04],[-0.07,0.16],[0.14,0.28],[0.36,0.42],[0.57,0.51],[0.74,0.51],[0.87,0.44],[0.95,0.23],[0.99,0.04],[1,0]],
  [[-1,0],[-0.96,-0.22],[-0.9,-0.39],[-0.81,-0.41],[-0.64,-0.3],[-0.43,-0.09],[-0.21,0.08],[0.0,0.2],[0.21,0.31],[0.42,0.45],[0.64,0.52],[0.8,0.5],[0.89,0.45],[0.95,0.13],[1,0]],
  [[-1,0],[-0.96,-0.18],[-0.85,-0.25],[-0.68,-0.23],[-0.51,-0.13],[-0.3,0.01],[-0.09,0.15],[0.13,0.27],[0.34,0.38],[0.55,0.5],[0.77,0.62],[0.89,0.64],[0.96,0.46],[1,0]],
  [[-1,0],[-0.96,-0.18],[-0.81,-0.23],[-0.6,-0.18],[-0.38,-0.04],[-0.17,0.1],[0.04,0.27],[0.25,0.41],[0.46,0.55],[0.64,0.62],[0.81,0.62],[0.93,0.5],[0.97,0.13],[1,0]],
  [[-1,0],[-0.98,-0.15],[-0.85,-0.11],[-0.64,-0.09],[-0.43,-0.04],[-0.21,0.08],[0.0,0.22],[0.21,0.39],[0.43,0.64],[0.55,0.72],[0.64,0.74],[0.72,0.69],[0.81,0.6],[0.89,0.41],[0.96,0.08],[1,0]],
  [[-1,0],[-0.97,-0.1],[-0.93,-0.12],[-0.72,-0.08],[-0.34,0.06],[-0.08,0.17],[0.13,0.34],[0.34,0.55],[0.47,0.64],[0.55,0.69],[0.68,0.58],[0.81,0.41],[0.91,0.22],[0.98,0.01],[1,0]],
  [[-1,0],[-0.96,-0.02],[-0.78,0.0],[-0.57,0.02],[-0.32,0.1],[-0.06,0.19],[0.15,0.33],[0.36,0.56],[0.49,0.66],[0.58,0.64],[0.7,0.55],[0.83,0.38],[0.96,0.13],[1,0]]
];
const hGreen = [
  [[-1,0],[-0.98,-0.34],[-0.93,-0.58],[-0.88,-0.63],[-0.8,-0.55],[-0.62,-0.29],[-0.41,-0.05],[-0.2,0.12],[0.02,0.24],[0.23,0.35],[0.44,0.51],[0.66,0.63],[0.83,0.7],[0.91,0.67],[0.97,0.42],[1,0]],
  [[-1,0],[-0.97,-0.3],[-0.92,-0.42],[-0.85,-0.43],[-0.71,-0.34],[-0.5,-0.13],[-0.29,0.09],[-0.07,0.21],[0.14,0.3],[0.36,0.42],[0.57,0.48],[0.78,0.56],[0.91,0.65],[0.97,0.42],[1,0]],
  [[-1,0],[-0.96,-0.25],[-0.9,-0.37],[-0.81,-0.39],[-0.64,-0.2],[-0.43,-0.04],[-0.21,0.06],[0.0,0.17],[0.21,0.29],[0.42,0.4],[0.64,0.5],[0.8,0.57],[0.91,0.64],[0.97,0.4],[1,0]],
  [[-1,0],[-0.96,-0.2],[-0.85,-0.27],[-0.68,-0.25],[-0.51,-0.16],[-0.3,0.01],[-0.09,0.1],[0.13,0.2],[0.34,0.34],[0.55,0.46],[0.77,0.59],[0.89,0.69],[0.96,0.55],[1,0]],
  [[-1,0],[-0.96,-0.18],[-0.81,-0.25],[-0.6,-0.2],[-0.38,-0.06],[-0.17,0.05],[0.04,0.17],[0.25,0.31],[0.46,0.43],[0.68,0.57],[0.89,0.69],[0.95,0.62],[0.98,0.3],[1,0]],
  [[-1,0],[-0.98,-0.18],[-0.85,-0.13],[-0.64,-0.13],[-0.43,-0.1],[-0.21,-0.01],[0.0,0.1],[0.21,0.29],[0.43,0.55],[0.55,0.69],[0.64,0.72],[0.72,0.67],[0.8,0.62],[0.89,0.46],[0.96,0.08],[1,0]],
  [[-1,0],[-0.97,-0.12],[-0.93,-0.13],[-0.72,-0.08],[-0.34,-0.06],[-0.08,-0.01],[0.13,0.11],[0.34,0.45],[0.51,0.66],[0.6,0.69],[0.77,0.53],[0.87,0.34],[0.96,0.06],[1,0]],
  [[-1,0],[-0.96,-0.02],[-0.78,-0.01],[-0.57,-0.04],[-0.32,0.0],[-0.06,0.05],[0.15,0.19],[0.32,0.42],[0.47,0.7],[0.55,0.65],[0.7,0.47],[0.83,0.28],[0.96,0.09],[1,0]]
];
const hSys = [
  [[-1,-0.9,0.07],[-0.9,0.3,0.035],[0.3,0.9,0.02]],
  [[-1,-0.9,0.05],[-0.9,0.5,0.03]],
  [[-1,-0.8,0.03],[-0.8,0.5,0.015]],
  [[-1,0.3,0.015]],
  [[-1,0.4,0.015],[0.55,0.65,0.06]],
  [[-1,0.4,0.02],[0.55,0.7,0.06]],
  [[-1,0.4,0.02],[0.45,0.7,0.06]],
  [[-1,-0.85,0.08],[-0.85,0.5,0.02]]
];

// ---------------- layout ----------------
const svg = d3.select("#chart");
const defs = svg.append("defs");
const frameLeft = 37, frameRight = 1289.8;
const colW = (frameRight - frameLeft) / 8;
const rowTop = [5, 161, 317];
const rowBot = [161, 317, 474];
const yDomains = [[-1.1, 1.1], [-1.1, 1.1], [-1.1, 1.12]];

const observables = [
  { pts: tPoints, red: tRed, solid: tSolid, dashed: tDashed, blue: tBlue, green: tGreen, sys: tSys },
  { pts: pPoints, red: pRed, solid: pSolid, dashed: pDashed, blue: pBlue, green: pGreen, sys: pSys },
  { pts: hPoints, red: null, solid: hSolid, dashed: hDashed, blue: hBlue, green: hGreen, sys: hSys }
];

const minorX = d3.range(-9, 10).map(i => i / 10);
const majorX = [-0.5, 0, 0.5];
const minorY = d3.range(-10, 11).map(i => i / 10);
const majorY = [-1, -0.5, 0, 0.5, 1];
const stripDomain = g => g.select(".domain").remove();

observables.forEach((o, r) => {
  const ys = d3.scaleLinear().domain(yDomains[r]).range([rowBot[r], rowTop[r]]);

  for (let c = 0; c < 8; c++) {
    const x0 = frameLeft + c * colW;
    const xs = d3.scaleLinear().domain([-1, 1]).range([x0, x0 + colW]);
    const clipId = `clip-${r}-${c}`;
    defs.append("clipPath").attr("id", clipId)
      .append("rect").attr("x", x0).attr("y", rowTop[r])
      .attr("width", colW).attr("height", rowBot[r] - rowTop[r]);

    const panel = svg.append("g");
    const plot = panel.append("g").attr("clip-path", `url(#${clipId})`);

    // systematic uncertainty bars
    plot.selectAll("rect.sys").data(o.sys[c]).join("rect")
      .attr("class", "sys")
      .attr("x", d => xs(d[0])).attr("width", d => xs(d[1]) - xs(d[0]))
      .attr("y", d => ys(d[2])).attr("height", d => ys(0) - ys(d[2]))
      .attr("fill", "#a9a9a9");

    // zero line
    plot.append("line")
      .attr("x1", xs(-1)).attr("x2", xs(1))
      .attr("y1", ys(0)).attr("y2", ys(0))
      .attr("stroke", "#000").attr("stroke-width", 1.6);

    // W-bin title
    plot.append("text")
      .attr("x", xs(0)).attr("y", rowTop[r] + 15.5)
      .attr("text-anchor", "middle")
      .attr("font-size", 15.5)
      .attr("fill", "#111")
      .text(`${wEdges[c].toFixed(3)} < W < ${wEdges[c + 1].toFixed(3)}`);

    // model curves
    const line = d3.line().x(d => xs(d[0])).y(d => ys(d[1])).curve(d3.curveMonotoneX);
    const curves = [
      { data: o.blue[c], color: "#0000ff", dash: "7,4" },
      { data: o.green[c], color: "#00e000", dash: "7,4" },
      { data: o.dashed[c], color: "#000", dash: "7,4" },
      { data: o.solid[c], color: "#000", dash: null }
    ];
    curves.forEach(cv => {
      plot.append("path").datum(cv.data)
        .attr("d", line)
        .attr("fill", "none")
        .attr("stroke", cv.color)
        .attr("stroke-width", 2)
        .attr("stroke-dasharray", cv.dash);
    });

    // black data points with error bars
    const pts = plot.append("g");
    pts.selectAll("line").data(o.pts[c]).join("line")
      .attr("x1", d => xs(d[0])).attr("x2", d => xs(d[0]))
      .attr("y1", d => ys(d[1] - d[2])).attr("y2", d => ys(d[1] + d[2]))
      .attr("stroke", "#000").attr("stroke-width", 1.6);
    pts.selectAll("circle").data(o.pts[c]).join("circle")
      .attr("cx", d => xs(d[0])).attr("cy", d => ys(d[1]))
      .attr("r", 3.4).attr("fill", "#000");

    // red data points
    if (o.red) {
      const rp = plot.append("g");
      rp.selectAll("line").data(o.red[c]).join("line")
        .attr("x1", d => xs(d[0])).attr("x2", d => xs(d[0]))
        .attr("y1", d => ys(d[1] - d[2])).attr("y2", d => ys(d[1] + d[2]))
        .attr("stroke", "#f00000").attr("stroke-width", 2);
      rp.selectAll("path").data(o.red[c]).join("path")
        .attr("d", d3.symbol(d3.symbolTriangle, 20))
        .attr("transform", d => `translate(${xs(d[0])},${ys(d[1])}) rotate(180)`)
        .attr("fill", "#f00000");
    }

    // inward tick marks on all four sides
    const yT = rowTop[r], yB = rowBot[r], xL = x0, xR = x0 + colW;
    panel.append("g").attr("transform", `translate(0,${yB})`)
      .call(d3.axisTop(xs).tickValues(minorX).tickSize(3).tickFormat("")).call(stripDomain);
    panel.append("g").attr("transform", `translate(0,${yB})`)
      .call(d3.axisTop(xs).tickValues(majorX).tickSize(6).tickFormat("")).call(stripDomain);
    panel.append("g").attr("transform", `translate(0,${yT})`)
      .call(d3.axisBottom(xs).tickValues(minorX).tickSize(3).tickFormat("")).call(stripDomain);
    panel.append("g").attr("transform", `translate(0,${yT})`)
      .call(d3.axisBottom(xs).tickValues(majorX).tickSize(6).tickFormat("")).call(stripDomain);
    panel.append("g").attr("transform", `translate(${xL},0)`)
      .call(d3.axisRight(ys).tickValues(minorY).tickSize(3).tickFormat("")).call(stripDomain);
    panel.append("g").attr("transform", `translate(${xL},0)`)
      .call(d3.axisRight(ys).tickValues(majorY).tickSize(6).tickFormat("")).call(stripDomain);
    panel.append("g").attr("transform", `translate(${xR},0)`)
      .call(d3.axisLeft(ys).tickValues(minorY).tickSize(3).tickFormat("")).call(stripDomain);
    panel.append("g").attr("transform", `translate(${xR},0)`)
      .call(d3.axisLeft(ys).tickValues(majorY).tickSize(6).tickFormat("")).call(stripDomain);
    panel.selectAll(".tick line").attr("stroke", "#000").attr("stroke-width", 1.2);

    // frame
    panel.append("rect")
      .attr("x", xL).attr("y", yT).attr("width", colW).attr("height", yB - yT)
      .attr("fill", "none").attr("stroke", "#000").attr("stroke-width", 2.6);

    // y tick labels on the first column
    if (c === 0) {
      const ya = svg.append("g").attr("transform", `translate(${xL},0)`)
        .call(d3.axisLeft(ys).tickValues(yTickLabels).tickSize(0).tickPadding(6).tickFormat(d => String(d)))
        .call(stripDomain);
      ya.selectAll("text").attr("font-size", 16).attr("letter-spacing", 0.6)
        .attr("font-family", "Liberation Sans, Arial, sans-serif").attr("fill", "#111");
    }
    // x tick labels on the bottom row
    if (r === 2) {
      const vals = c === 0 ? xTickLabelsFirst : (c === 7 ? xTickLabelsLast : xTickLabelsMid);
      const xa = svg.append("g").attr("transform", `translate(0,${yB})`)
        .call(d3.axisBottom(xs).tickValues(vals).tickSize(0).tickPadding(4).tickFormat(d => String(d)))
        .call(stripDomain);
      xa.selectAll("text").attr("font-size", 16).attr("letter-spacing", 0.6)
        .attr("font-family", "Liberation Sans, Arial, sans-serif").attr("fill", "#111");
    }
  }

  // row label
  svg.append("text")
    .attr("transform", `translate(13.5,${rowTop[r] + 6.5}) rotate(-90)`)
    .attr("text-anchor", "end")
    .attr("font-size", 13)
    .attr("fill", "#111")
    .text(rowNames[r]);
});

// pad separators to the left of the frames
[161, 317].forEach(y => {
  svg.append("line").attr("x1", 9).attr("x2", frameLeft).attr("y1", y).attr("y2", y)
    .attr("stroke", "#000").attr("stroke-width", 1.4);
});

// x-axis title
const xt = svg.append("text")
  .attr("x", 1290).attr("y", 507)
  .attr("text-anchor", "end")
  .attr("font-size", 16)
  .attr("fill", "#111");
xt.append("tspan").text("cos θ");
xt.append("tspan").attr("font-size", 11).attr("dy", 4).text("π");
xt.append("tspan").attr("font-size", 8).attr("dy", -7).text("0");
</script>
</body>
</html>
